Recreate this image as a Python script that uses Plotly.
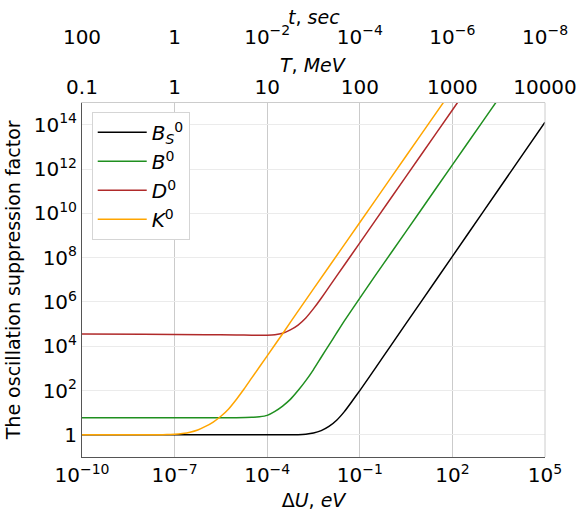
import plotly.graph_objects as go

# ---------------- data ----------------
bs_x = [1e-10, 1e-8, 1e-6, 1e-4, 3.16e-4, 1e-3, 1.78e-3, 3.16e-3, 5.62e-3, 1e-2, 1.78e-2, 3.16e-2,
        5.62e-2, 1e-1, 3.16e-1, 1, 10, 100, 1e3, 1e4, 1e5]
bs_y = [1, 1, 1, 1, 1, 1.02, 1.07, 1.2, 1.55, 2.4, 4.57, 11.2,
        33, 100, 1000, 1.05e4, 1.1e6, 1.15e8, 1.2e10, 1.26e12, 1.32e14]

b_x = [1e-10, 1e-8, 1e-6, 1e-5, 3.16e-5, 5.62e-5, 1e-4, 1.78e-4, 3.16e-4, 5.62e-4, 1e-3, 1.78e-3,
       3.16e-3, 5.62e-3, 1e-2, 1.78e-2, 3.16e-2, 1e-1, 3.16e-1, 1, 10, 100, 1e3, 3.16e3]
b_y = [6.0, 6.0, 6.0, 6.0, 6.2, 6.6, 7.6, 11.5, 20, 40, 100, 280,
       890, 3.2e3, 1.12e4, 4e4, 1.41e5, 1.5e6, 1.55e7, 1.55e8, 1.55e10, 1.55e12, 1.55e14, 1.55e15]

d_x = [1e-10, 1e-8, 1e-6, 1e-5, 3.16e-5, 1e-4, 1.78e-4, 3.16e-4, 5.62e-4, 1e-3, 1.78e-3, 3.16e-3,
       5.62e-3, 1e-2, 3.16e-2, 1e-1, 1, 10, 100, 316]
d_y = [3.55e4, 3.47e4, 3.31e4, 3.24e4, 3.16e4, 3.16e4, 3.31e4, 3.89e4, 5.5e4, 9.1e4, 1.9e5, 5.0e5,
       1.48e6, 4.7e6, 4.7e7, 4.7e8, 4.7e10, 4.7e12, 4.7e14, 4.7e15]

k_x = [1e-10, 1e-8, 3.16e-8, 5.62e-8, 1e-7, 1.78e-7, 3.16e-7, 5.62e-7, 1e-6, 1.78e-6, 3.16e-6, 5.62e-6,
       1e-5, 1.78e-5, 3.16e-5, 1e-4, 3.16e-4, 1e-3, 1e-2, 1e-1, 1, 10, 100]
k_y = [1, 1, 1.01, 1.03, 1.06, 1.15, 1.32, 1.66, 2.4, 3.8, 6.9, 14.8,
       39.8, 117, 372, 3.7e3, 3.7e4, 3.9e5, 3.9e7, 3.9e9, 3.9e11, 3.9e13, 3.9e15]

names = ["<i>B</i><sub><i>S</i></sub><sup>0</sup>", "<i>B</i><sup>0</sup>",
         "<i>D</i><sup>0</sup>", "<i>K</i><sup>0</sup>"]
colors = ["#000000", "#1f8f1f", "#b02a2a", "#ffa500"]

x_ticks = [1e-10, 1e-7, 1e-4, 1e-1, 1e2, 1e5]
x_ticktext = ["10<sup>−10</sup>", "10<sup>−7</sup>", "10<sup>−4</sup>", "10<sup>−1</sup>",
              "10<sup>2</sup>", "10<sup>5</sup>"]
y_ticks = [1, 1e2, 1e4, 1e6, 1e8, 1e10, 1e12, 1e14]
y_ticktext = ["1", "10<sup>2</sup>", "10<sup>4</sup>", "10<sup>6</sup>", "10<sup>8</sup>",
              "10<sup>10</sup>", "10<sup>12</sup>", "10<sup>14</sup>"]
T_ticks = [0.1, 1, 10, 100, 1000, 10000]
T_ticktext = ["0.1", "1", "10", "100", "1000", "10000"]
t_ticks = [100, 1, 1e-2, 1e-4, 1e-6, 1e-8]
t_ticktext = ["100", "1", "10<sup>−2</sup>", "10<sup>−4</sup>", "10<sup>−6</sup>", "10<sup>−8</sup>"]

# ---------------- figure ----------------
fig = go.Figure()
for nm, xs, ys, c in zip(names, [bs_x, b_x, d_x, k_x], [bs_y, b_y, d_y, k_y], colors):
    fig.add_trace(go.Scatter(x=xs, y=ys, mode="lines", name=nm,
                             line=dict(color=c, width=1.5, shape="spline", smoothing=0.5)))

# empty (no visible marks) traces so that the two top axes are created
fig.add_trace(go.Scatter(x=T_ticks, y=[None] * len(T_ticks), xaxis="x2", yaxis="y",
                         mode="lines", showlegend=False, hoverinfo="skip"))
fig.add_trace(go.Scatter(x=t_ticks, y=[None] * len(t_ticks), xaxis="x3", yaxis="y",
                         mode="lines", showlegend=False, hoverinfo="skip"))

FONT = "DejaVu Sans"
TITLE_SIZE = 19
PAPER_H = 511 - 54
ydom_top = 0.7753

fig.update_layout(
    width=584, height=511,
    margin=dict(l=82, r=39, t=0, b=54),
    paper_bgcolor="white", plot_bgcolor="white",
    font=dict(family=FONT, size=20, color="black"),
    xaxis=dict(type="log", range=[-10, 5], tickmode="array", tickvals=x_ticks, ticktext=x_ticktext,
               showgrid=True, gridcolor="#cbcbcb", gridwidth=1, zeroline=False,
               showline=True, linecolor="#555555", linewidth=1, ticks="",
               title=dict(text="Δ<i>U</i>, <i>eV</i>", standoff=8, font=dict(size=TITLE_SIZE)),
               automargin=False),
    yaxis=dict(type="log", range=[-1, 15], domain=[0, ydom_top], tickmode="array",
               tickvals=y_ticks, ticktext=y_ticktext,
               showgrid=True, gridcolor="#ebebeb", gridwidth=1, zeroline=False,
               showline=True, linecolor="#555555", linewidth=1, ticks="",
               title=dict(text="The oscillation suppression factor", standoff=8,
                          font=dict(size=TITLE_SIZE)),
               automargin=False),
    xaxis2=dict(type="log", range=[-1, 4], overlaying="x", side="top", anchor="y",
                tickmode="array", tickvals=T_ticks, ticktext=T_ticktext,
                showgrid=False, zeroline=False, showline=True, linecolor="#cccccc", ticks="",
                automargin=False),
    xaxis3=dict(type="log", range=[2, -8], overlaying="x", side="top", anchor="free",
                position=1 - 47.5 / PAPER_H,
                tickmode="array", tickvals=t_ticks, ticktext=t_ticktext,
                showgrid=False, zeroline=False, showline=False, ticks="",
                automargin=False),
    annotations=[
        dict(text="<i>T</i>, <i>MeV</i>", xref="paper", yref="paper", x=0.5, y=1 - 65 / PAPER_H,
             xanchor="center", yanchor="middle", showarrow=False, font=dict(size=TITLE_SIZE)),
        dict(text="<i>t</i>, <i>sec</i>", xref="paper", yref="paper", x=0.5, y=1 - 17 / PAPER_H,
             xanchor="center", yanchor="middle", showarrow=False, font=dict(size=TITLE_SIZE)),
    ],
    legend=dict(x=0.021, y=0.7556, xanchor="left", yanchor="top", bgcolor="white",
                bordercolor="#d5d5d5", borderwidth=1, font=dict(size=20), itemwidth=49),
    shapes=[dict(type="line", xref="x domain", yref="y domain", x0=1, x1=1, y0=0, y1=1,
                 line=dict(color="#cccccc", width=1))],
)

fig.write_html("out.html")
